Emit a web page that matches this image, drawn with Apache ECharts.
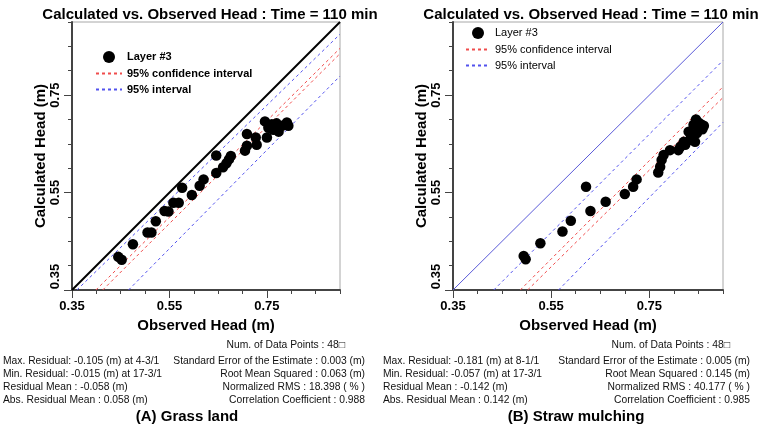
<!DOCTYPE html>
<html><head><meta charset="utf-8">
<script src="https://cdn.jsdelivr.net/npm/echarts@6/dist/echarts.min.js"></script>
<style>html,body{margin:0;padding:0;background:#fff}#c{width:762px;height:432px}</style>
</head><body><div id="c"></div>
<script>
// ---------- data ----------
const chartTitle = 'Calculated vs. Observed Head : Time = 110 min';
const xAxisName = 'Observed Head (m)';
const yAxisName = 'Calculated Head (m)';
const tickLabels = [0.35, 0.55, 0.75];
const axisMin = 0.35, axisMax = 0.9;

const grassPoints = [
  [0.445,0.418],[0.452,0.412],[0.475,0.444],[0.505,0.468],[0.513,0.468],[0.522,0.491],
  [0.540,0.512],[0.548,0.511],[0.558,0.529],[0.569,0.529],[0.576,0.560],[0.596,0.545],
  [0.612,0.564],[0.620,0.577],[0.646,0.626],[0.646,0.590],[0.660,0.602],[0.667,0.610],
  [0.672,0.618],[0.676,0.625],[0.705,0.636],[0.709,0.646],[0.709,0.670],[0.727,0.663],
  [0.729,0.648],[0.746,0.696],[0.750,0.663],[0.753,0.683],[0.763,0.679],[0.770,0.692],
  [0.774,0.675],[0.781,0.687],[0.791,0.694],[0.794,0.687],[0.760,0.690]
];
const strawPoints = [
  [0.494,0.420],[0.498,0.413],[0.528,0.446],[0.573,0.470],[0.590,0.492],[0.621,0.562],
  [0.630,0.512],[0.661,0.531],[0.700,0.547],[0.717,0.562],[0.724,0.577],[0.768,0.591],
  [0.772,0.603],[0.775,0.617],[0.779,0.627],[0.792,0.637],[0.809,0.637],[0.813,0.644],
  [0.820,0.654],[0.823,0.648],[0.833,0.658],[0.843,0.654],[0.830,0.675],[0.840,0.668],
  [0.847,0.672],[0.858,0.680],[0.840,0.689],[0.850,0.694],[0.861,0.687],[0.835,0.665],
  [0.845,0.700],[0.855,0.690]
];
const oneToOne = [[0.35,0.35],[0.9,0.9]];
const grassConfUpper = [[0.399,0.35],[0.9,0.846]];
const grassConfLower = [[0.413,0.35],[0.9,0.835]];
const grassPredUpper = [[0.360,0.35],[0.9,0.875]];
const grassPredLower = [[0.466,0.35],[0.9,0.789]];
const strawConfUpper = [[0.487,0.35],[0.9,0.767]];
const strawConfLower = [[0.502,0.35],[0.9,0.745]];
const strawPredUpper = [[0.433,0.35],[0.9,0.821]];
const strawPredLower = [[0.565,0.35],[0.9,0.694]];

const statsLeftA = ['Max. Residual: -0.105 (m) at 4-3/1','Min. Residual: -0.015 (m) at 17-3/1','Residual Mean : -0.058 (m)','Abs. Residual Mean : 0.058 (m)'];
const statsRightA = ['Num. of Data Points : 48\u25A1','Standard Error of the Estimate : 0.003 (m)','Root Mean Squared : 0.063 (m)','Normalized RMS : 18.398 ( % )','Correlation Coefficient : 0.988'];
const statsLeftB = ['Max. Residual: -0.181 (m) at 8-1/1','Min. Residual: -0.057 (m) at 17-3/1','Residual Mean : -0.142 (m)','Abs. Residual Mean : 0.142 (m)'];
const statsRightB = ['Num. of Data Points : 48\u25A1','Standard Error of the Estimate : 0.005 (m)','Root Mean Squared : 0.145 (m)','Normalized RMS : 40.177 ( % )','Correlation Coefficient : 0.985'];
const captions = ['(A) Grass land','(B) Straw mulching'];
const legendNames = ['Layer #3','95% confidence interval','95% interval'];

// ---------- chart ----------
const FONT = '"Liberation Sans", Arial, sans-serif';
const RED = '#f04c4c', BLUE = '#5252ee';
const grids = [
  {left:72, top:22, width:268, height:268, show:true, borderColor:'#a8a8a8', borderWidth:1},
  {left:453, top:22, width:270, height:268, show:true, borderColor:'#a8a8a8', borderWidth:1}
];
const isLabel = v => tickLabels.some(t => Math.abs(t - v) < 1e-6);
const fmtX = v => isLabel(v) ? v.toFixed(2) : '';
const fmtY = v => !isLabel(v) ? '' : (Math.abs(v - axisMin) < 1e-6 ? '{m|' + v.toFixed(2) + '}' : v.toFixed(2));

function mainX(g){return {type:'value', gridIndex:g, min:axisMin, max:axisMax, interval:0.05, position:'bottom',
  name:xAxisName, nameLocation:'middle', nameGap:24,
  nameTextStyle:{fontFamily:FONT, fontSize:15, fontWeight:'bold', color:'#000'},
  axisLine:{show:true, onZero:false, lineStyle:{color:'#444', width:2}},
  axisTick:{show:true, length:4, lineStyle:{color:'#444'}},
  axisLabel:{formatter:fmtX, margin:10, fontFamily:FONT, fontSize:13, fontWeight:'bold', color:'#000'},
  splitLine:{show:false}};}
function majX(g){return {type:'value', gridIndex:g, min:axisMin, max:axisMax, interval:0.2, position:'bottom',
  axisLine:{show:false}, axisTick:{show:true, length:8, customValues:tickLabels, lineStyle:{color:'#444'}},
  axisLabel:{show:false}, splitLine:{show:false}};}
function mainY(g){return {type:'value', gridIndex:g, min:axisMin, max:axisMax, interval:0.05, position:'left',
  name:yAxisName, nameLocation:'middle', nameGap:24, nameRotate:90,
  nameTextStyle:{fontFamily:FONT, fontSize:15, fontWeight:'bold', color:'#000'},
  axisLine:{show:true, onZero:false, lineStyle:{color:'#444', width:2}},
  axisTick:{show:true, length:4, lineStyle:{color:'#444'}},
  axisLabel:{formatter:fmtY, rotate:90, margin:10, fontFamily:FONT, fontSize:13, fontWeight:'bold', color:'#000',
    rich:{m:{fontFamily:FONT, fontSize:13, fontWeight:'bold', color:'#000', padding:[0,0,0,27]}}},
  splitLine:{show:false}};}
function majY(g){return {type:'value', gridIndex:g, min:axisMin, max:axisMax, interval:0.2, position:'left',
  axisLine:{show:false}, axisTick:{show:true, length:8, customValues:tickLabels, lineStyle:{color:'#444'}},
  axisLabel:{show:false}, splitLine:{show:false}};}

function lineS(name, data, xi, color, width, dashed){
  return {type:'line', name:name, xAxisIndex:xi, yAxisIndex:xi, data:data, symbol:'none', silent:true,
    lineStyle:{color:color, width:width, type: dashed ? [3,3] : 'solid'}, itemStyle:{color:color}, z:2};
}
function scatterS(data, xi){
  return {type:'scatter', name:legendNames[0], xAxisIndex:xi, yAxisIndex:xi, data:data, symbol:'circle', symbolSize:10.5,
    itemStyle:{color:'#000', opacity:1}, z:5};
}

const series = [
  lineS('1:1', oneToOne, 0, '#000', 2, false),
  lineS(legendNames[1], grassConfUpper, 0, RED, 1, true),
  lineS(legendNames[1], grassConfLower, 0, RED, 1, true),
  lineS(legendNames[2], grassPredUpper, 0, BLUE, 1, true),
  lineS(legendNames[2], grassPredLower, 0, BLUE, 1, true),
  scatterS(grassPoints, 0),
  lineS('1:1 b', oneToOne, 2, '#5a5ad8', 1, false),
  lineS(legendNames[1], strawConfUpper, 2, RED, 1, true),
  lineS(legendNames[1], strawConfLower, 2, RED, 1, true),
  lineS(legendNames[2], strawPredUpper, 2, BLUE, 1, true),
  lineS(legendNames[2], strawPredLower, 2, BLUE, 1, true),
  scatterS(strawPoints, 2)
];

function legend(left, top, weight, w){
  return {orient:'vertical', left:left, top:top, padding:0, itemGap:5, itemWidth:w, itemHeight:12, selectedMode:false,
    data:[{name:legendNames[0], icon:'circle', itemStyle:{color:'#000', opacity:1}},
          {name:legendNames[1], itemStyle:{opacity:0}},
          {name:legendNames[2], itemStyle:{opacity:0}}],
    textStyle:{fontFamily:FONT, fontSize:11, fontWeight:weight, color:'#000'}};
}

const graphics = [];
const SF = '10.3px ' + FONT;
function addStats(leftX, rightX, numRightX, leftLines, rightLines){
  const ys = [345, 361, 374, 387, 400];
  rightLines.forEach((t,i)=>graphics.push({type:'text', x: i===0 ? numRightX : rightX, y:ys[i],
    style:{text:t, font:SF, fill:'#111', textAlign:'right', textVerticalAlign:'middle'}}));
  leftLines.forEach((t,i)=>graphics.push({type:'text', x:leftX, y:ys[i+1],
    style:{text:t, font:SF, fill:'#111', textAlign:'left', textVerticalAlign:'middle'}}));
}
addStats(3, 365, 345, statsLeftA, statsRightA);
addStats(383, 750, 730, statsLeftB, statsRightB);
graphics.push({type:'text', x:187, y:417, style:{text:captions[0], font:'bold 15px '+FONT, fill:'#000', textAlign:'center', textVerticalAlign:'middle'}});
graphics.push({type:'text', x:576, y:417, style:{text:captions[1], font:'bold 15px '+FONT, fill:'#000', textAlign:'center', textVerticalAlign:'middle'}});

const chart = echarts.init(document.getElementById('c'), null, {renderer:'canvas'});
chart.setOption({
  animation:false,
  backgroundColor:'#fff',
  title:[
    {text:chartTitle, left:205, top:2, textAlign:'center', textStyle:{fontFamily:FONT, fontSize:15, fontWeight:'bold', color:'#000'}},
    {text:chartTitle, left:586, top:2, textAlign:'center', textStyle:{fontFamily:FONT, fontSize:15, fontWeight:'bold', color:'#000'}}
  ],
  grid:grids,
  xAxis:[mainX(0), majX(0), mainX(1), majX(1)],
  yAxis:[mainY(0), majY(0), mainY(1), majY(1)],
  legend:[legend(95, 51, 'bold', 26), legend(465, 27, 'normal', 24)],
  series:series,
  graphic:graphics
});
</script></body></html>
